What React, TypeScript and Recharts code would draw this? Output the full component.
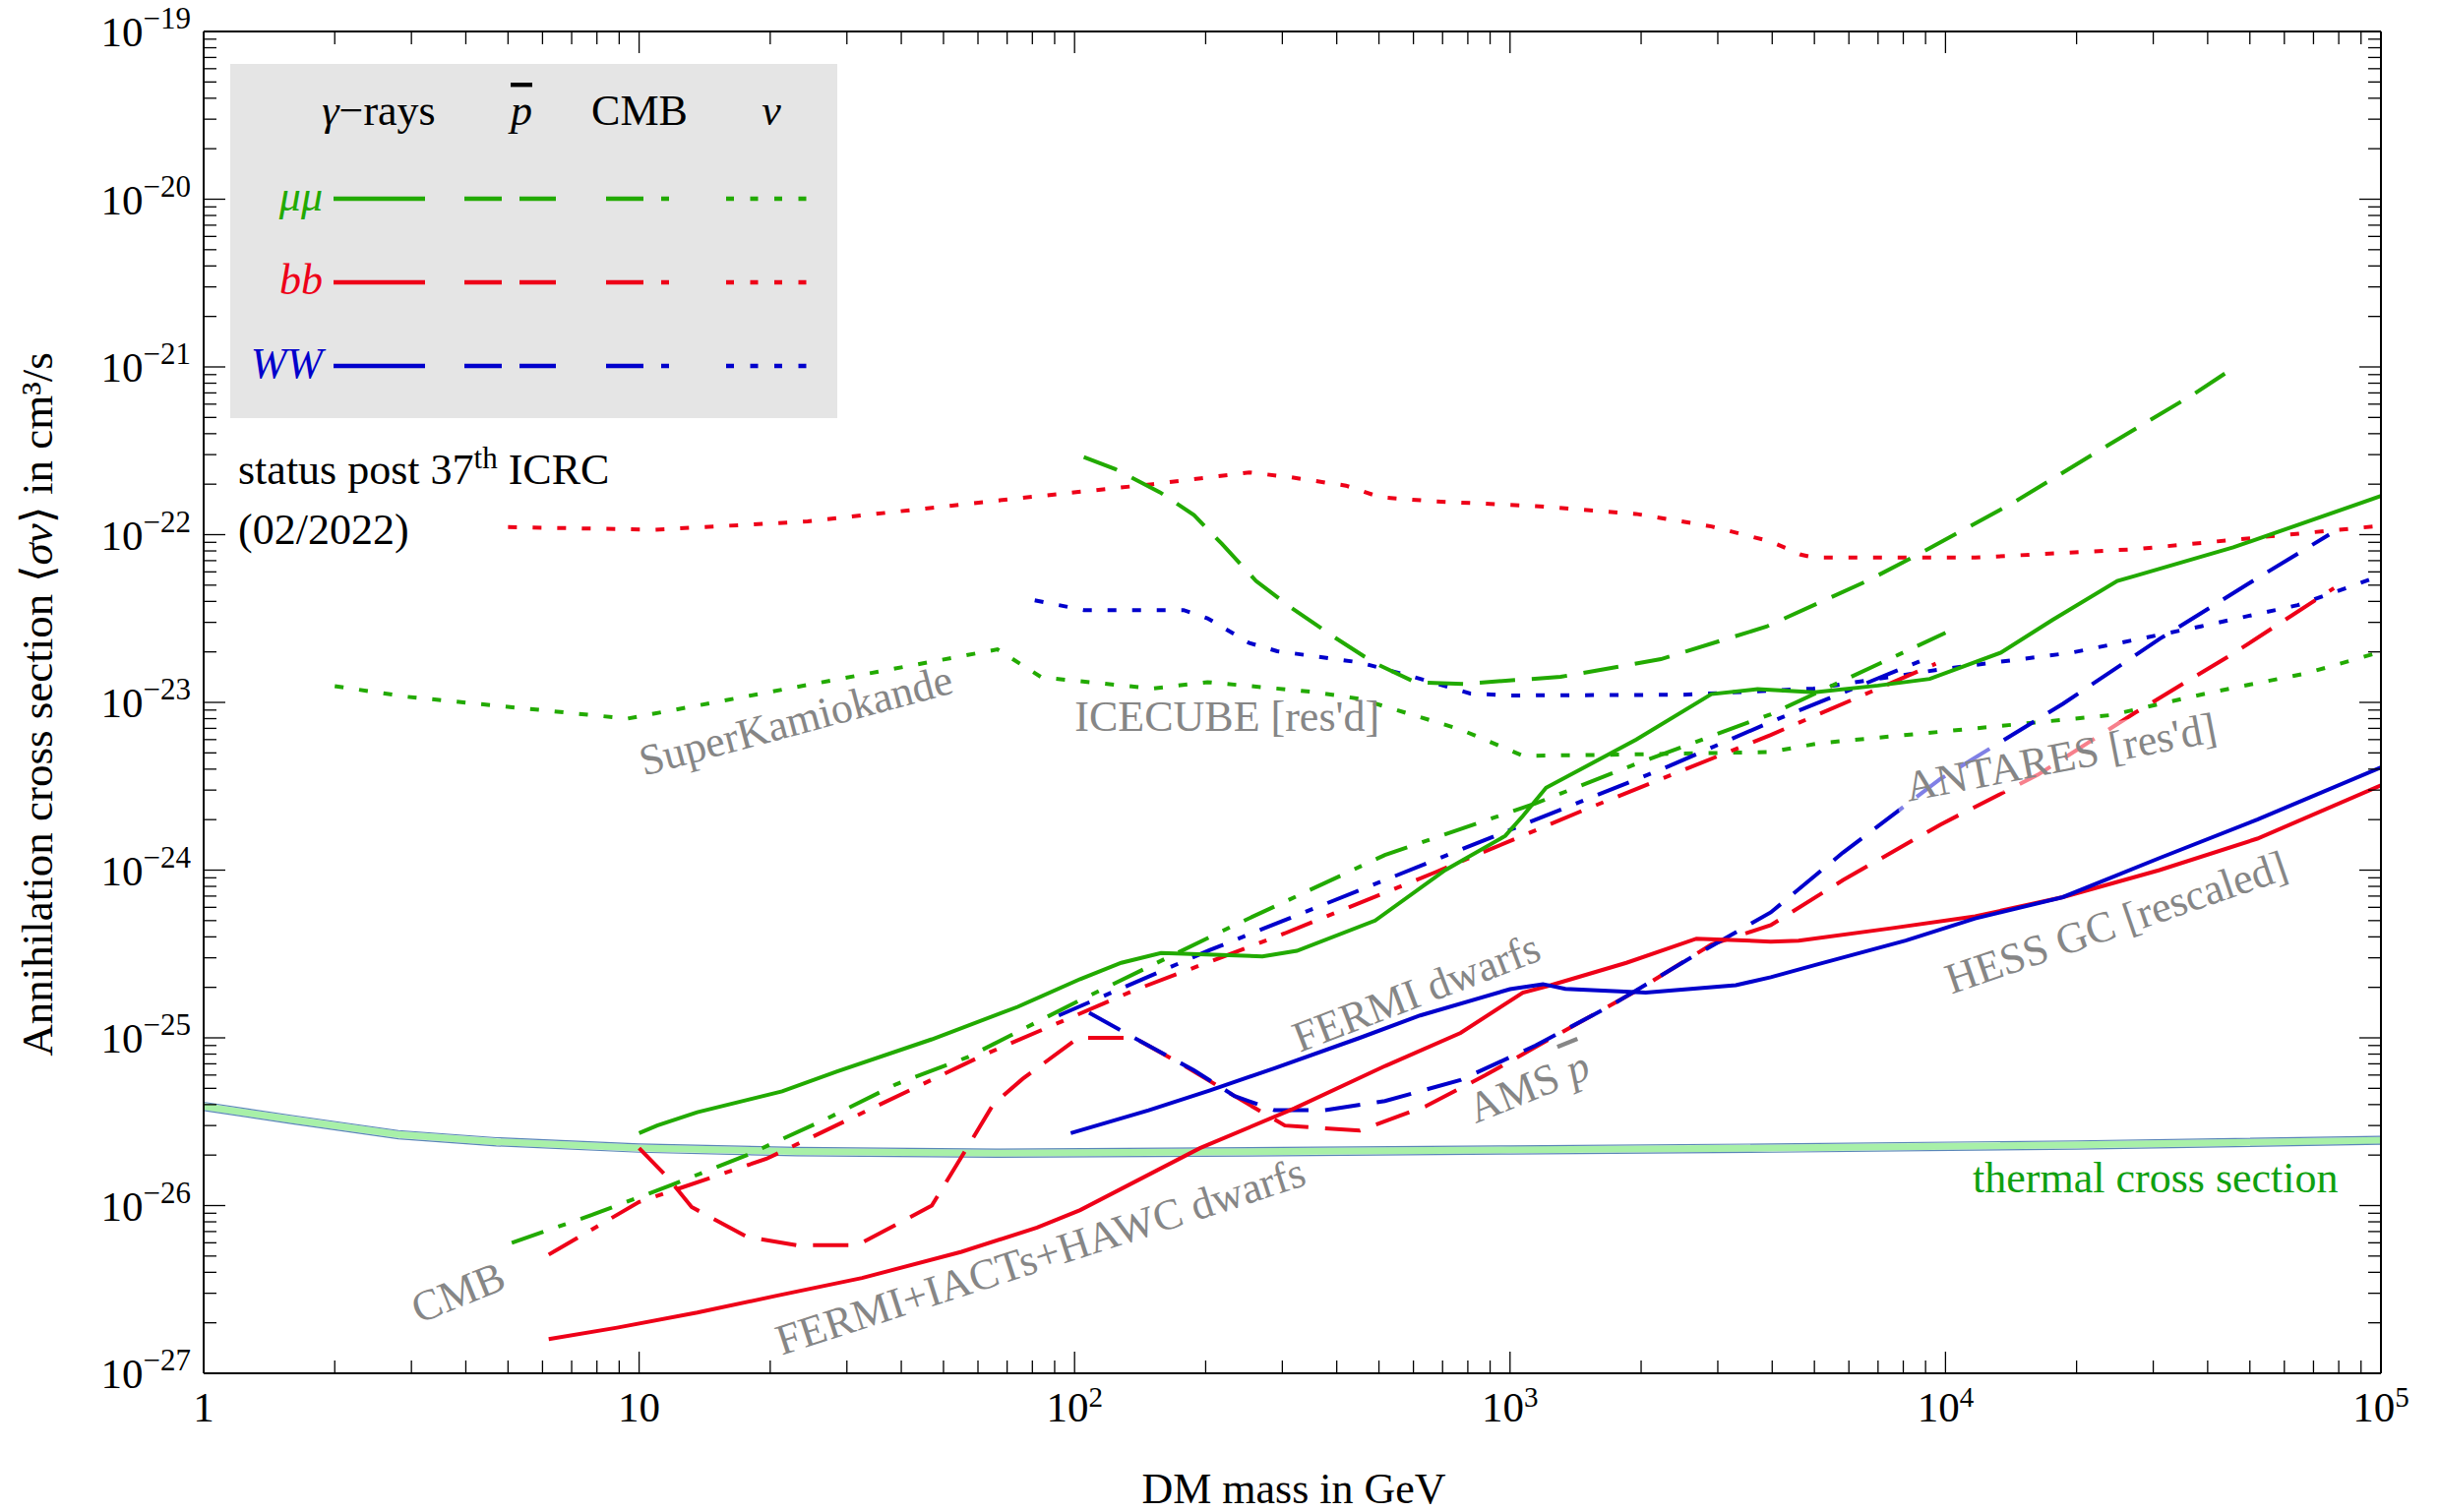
import React from "react";
import { ComposedChart, Line, XAxis, YAxis, ReferenceDot } from "recharts";

const GREEN = "#22aa00";
const RED = "#ee0018";
const BLUE = "#0000cc";
const GRAY = "#868686";
const FONT = '"Liberation Serif", "Times New Roman", serif';

const W = 2479;
const H = 1537;

// axis ticks
const xMajor = [1, 10, 100, 1000, 10000, 100000];
const yMajor = [1e-27, 1e-26, 1e-25, 1e-24, 1e-23, 1e-22, 1e-21, 1e-20, 1e-19];
const minorSteps = [2, 3, 4, 5, 6, 7, 8, 9];

const withMinor = (major: number[]) =>
  [...major, ...major.slice(0, -1).flatMap((d) => minorSteps.map((k) => k * d))].sort((a, b) => a - b);

const xTicks = withMinor(xMajor);
const yTicks = withMinor(yMajor);

// thermal cross section band
const thermalM = [1, 1.6, 2.8, 4.7, 10, 23, 66, 300, 1000, 4000, 20000, 100000];
const thermalS = [3.9e-26, 3.25e-26, 2.65e-26, 2.4e-26, 2.2e-26, 2.1e-26, 2.05e-26, 2.1e-26, 2.15e-26, 2.2e-26, 2.3e-26, 2.45e-26];
const thermalLo = [3.69e-26, 3.07e-26, 2.5e-26, 2.27e-26, 2.08e-26, 1.98e-26, 1.94e-26, 1.98e-26, 2.03e-26, 2.08e-26, 2.17e-26, 2.32e-26];
const thermalHi = [4.13e-26, 3.44e-26, 2.8e-26, 2.54e-26, 2.33e-26, 2.22e-26, 2.17e-26, 2.22e-26, 2.27e-26, 2.33e-26, 2.43e-26, 2.59e-26];

// gamma-rays (solid)
const gammaMuM = [10, 11, 13.6, 21.3, 28.5, 47, 74, 103, 128, 158, 270, 324, 490, 710, 975, 1070, 1210, 1950, 2900, 3700, 5000, 7000, 9200, 13400, 17600, 24800, 27400, 45800, 100000];
const gammaMuS = [2.7e-26, 3.0e-26, 3.6e-26, 4.8e-26, 6.3e-26, 9.8e-26, 1.53e-25, 2.24e-25, 2.8e-25, 3.2e-25, 3.06e-25, 3.3e-25, 5.0e-25, 1.0e-24, 1.6e-24, 2.1e-24, 3.1e-24, 6.0e-24, 1.12e-23, 1.2e-23, 1.15e-23, 1.26e-23, 1.38e-23, 1.98e-23, 3.1e-23, 5.3e-23, 5.7e-23, 8.4e-23, 1.7e-22];
const gammaBbM = [6.2, 8.9, 13.6, 20.7, 32.5, 55, 82, 103, 194, 320, 517, 770, 1070, 1240, 1850, 2680, 3970, 4600, 7500, 11700, 18600, 31000, 52000, 100000];
const gammaBbS = [1.6e-27, 1.87e-27, 2.3e-27, 2.9e-27, 3.7e-27, 5.3e-27, 7.4e-27, 9.4e-27, 2.2e-26, 3.8e-26, 6.8e-26, 1.07e-25, 1.86e-25, 2.06e-25, 2.8e-25, 3.9e-25, 3.75e-25, 3.8e-25, 4.5e-25, 5.3e-25, 6.9e-25, 1.0e-24, 1.54e-24, 3.2e-24];
const gammaWwM = [98, 148, 204, 288, 452, 622, 1000, 1190, 1340, 2050, 3300, 3970, 5100, 8100, 11700, 18600, 31000, 52000, 100000];
const gammaWwS = [2.7e-26, 3.7e-26, 4.85e-26, 6.6e-26, 1.0e-25, 1.36e-25, 1.95e-25, 2.09e-25, 1.96e-25, 1.86e-25, 2.06e-25, 2.3e-25, 2.75e-25, 3.8e-25, 5.15e-25, 6.9e-25, 1.18e-24, 2.0e-24, 4.1e-24];

// antiprotons (dashed)
const pbarMuM = [105, 124, 157, 188, 218, 261, 313, 390, 486, 605, 781, 1306, 2220, 3880, 6610, 8560, 14300, 24000, 37200, 44300];
const pbarMuS = [2.9e-22, 2.46e-22, 1.79e-22, 1.31e-22, 8.8e-23, 5.3e-23, 3.7e-23, 2.5e-23, 1.73e-23, 1.32e-23, 1.29e-23, 1.42e-23, 1.81e-23, 2.83e-23, 5.3e-23, 7.5e-23, 1.55e-22, 3.5e-22, 6.9e-22, 9.3e-22];
const pbarBbM = [10, 11.6, 13.2, 17.7, 23, 31.7, 47, 55, 65, 76, 102, 137, 179, 233, 304, 452, 639, 879, 1307, 1946, 2900, 3970, 5810, 9740, 16300, 27300, 45700, 78000];
const pbarBbS = [2.2e-26, 1.48e-26, 9.8e-27, 6.5e-27, 5.8e-27, 5.8e-27, 1.0e-26, 1.95e-26, 4.0e-26, 5.7e-26, 1.0e-25, 1.0e-25, 6.8e-26, 4.5e-26, 3.0e-26, 2.8e-26, 3.9e-26, 6.0e-26, 1.07e-25, 1.9e-25, 3.6e-25, 4.7e-25, 8.7e-25, 1.87e-24, 3.7e-24, 8.7e-24, 1.95e-23, 4.8e-23];
const pbarWwM = [108, 137, 188, 233, 288, 375, 516, 769, 1145, 1706, 2540, 3970, 5810, 9740, 18600, 31100, 52000, 76000];
const pbarWwS = [1.41e-25, 1.0e-25, 6.4e-26, 4.5e-26, 3.7e-26, 3.7e-26, 4.2e-26, 5.6e-26, 9.0e-26, 1.56e-25, 2.9e-25, 5.6e-25, 1.27e-24, 3.5e-24, 9.8e-24, 2.4e-23, 5.5e-23, 1.0e-22];

// CMB (dash-dot)
const cmbMuM = [5.1, 7.8, 11.9, 17.7, 27, 39, 57, 104, 233, 516, 1145, 1950, 3970, 10000];
const cmbMuS = [6.0e-27, 8.8e-27, 1.33e-26, 2.0e-26, 3.3e-26, 5.3e-26, 7.7e-26, 1.7e-25, 4.7e-25, 1.23e-24, 2.5e-24, 4.3e-24, 8.5e-24, 2.6e-23];
const cmbBbM = [6.2, 10, 19.6, 61.8, 137, 304, 673, 1490, 3970, 9500];
const cmbBbS = [5.1e-27, 1.05e-26, 1.9e-26, 7.9e-26, 1.92e-25, 4.2e-25, 9.7e-25, 2.3e-24, 6.4e-24, 1.7e-23];
const cmbWwM = [92, 204, 452, 1002, 2222, 3966, 9360];
const cmbWwS = [1.36e-25, 3.33e-25, 7.6e-25, 1.74e-24, 3.98e-24, 7.64e-24, 1.89e-23];

// neutrinos (dotted)
const nuMuM = [2, 2.93, 9.4, 66.5, 84, 151, 202, 347, 452, 769, 1072, 1946, 3966, 5115, 11070, 24000, 40200, 67300, 100000];
const nuMuS = [1.25e-23, 1.08e-23, 8.0e-24, 2.07e-23, 1.41e-23, 1.21e-23, 1.32e-23, 1.16e-23, 1.05e-23, 6.9e-24, 4.8e-24, 4.9e-24, 5.06e-24, 5.7e-24, 6.9e-24, 8.4e-24, 1.14e-23, 1.49e-23, 2.0e-23];
const nuBbM = [5, 10.9, 24.4, 73, 151, 252, 313, 420, 504, 673, 1145, 1946, 2900, 3970, 4650, 4980, 11700, 27400, 100000];
const nuBbS = [1.11e-22, 1.07e-22, 1.2e-22, 1.64e-22, 2.0e-22, 2.35e-22, 2.2e-22, 1.96e-22, 1.67e-22, 1.58e-22, 1.48e-22, 1.33e-22, 1.12e-22, 9.1e-23, 7.6e-23, 7.3e-23, 7.3e-23, 8.2e-23, 1.13e-22];
const nuWwM = [81, 105, 178, 202, 252, 292, 452, 605, 810, 1000, 2500, 4980, 9860, 19500, 38600, 64400, 100000];
const nuWwS = [4.06e-23, 3.55e-23, 3.55e-23, 3.17e-23, 2.26e-23, 2.02e-23, 1.73e-23, 1.41e-23, 1.13e-23, 1.1e-23, 1.11e-23, 1.21e-23, 1.58e-23, 1.98e-23, 2.84e-23, 3.8e-23, 5.7e-23];

const DASH = "36 17";
const DASHDOT = "34 16 8 16";
const DOT = "9 16";

const zip = (m: number[], s: number[]) => m.map((v, i) => ({ m: v, s: s[i] }));

const series = [
  { id: "nuMu", data: zip(nuMuM, nuMuS), color: GREEN, dash: DOT },
  { id: "nuBb", data: zip(nuBbM, nuBbS), color: RED, dash: DOT },
  { id: "nuWw", data: zip(nuWwM, nuWwS), color: BLUE, dash: DOT },
  { id: "cmbMu", data: zip(cmbMuM, cmbMuS), color: GREEN, dash: DASHDOT },
  { id: "cmbWw", data: zip(cmbWwM, cmbWwS), color: BLUE, dash: DASHDOT },
  { id: "cmbBb", data: zip(cmbBbM, cmbBbS), color: RED, dash: DASHDOT },
  { id: "pbarMu", data: zip(pbarMuM, pbarMuS), color: GREEN, dash: DASH },
  { id: "pbarBb", data: zip(pbarBbM, pbarBbS), color: RED, dash: DASH },
  { id: "pbarWw", data: zip(pbarWwM, pbarWwS), color: BLUE, dash: DASH },
  { id: "gammaMu", data: zip(gammaMuM, gammaMuS), color: GREEN, dash: undefined },
  { id: "gammaBb", data: zip(gammaBbM, gammaBbS), color: RED, dash: undefined },
  { id: "gammaWw", data: zip(gammaWwM, gammaWwS), color: BLUE, dash: undefined },
];

// curve labels, placed in data coordinates
const labelText = ["SuperKamiokande", "ICECUBE [res'd]", "ANTARES [res'd]", "FERMI dwarfs", "AMS", "HESS GC [rescaled]", "FERMI+IACTs+HAWC dwarfs", "CMB", "thermal cross section"];
const labelM = [22.9, 224, 18400, 609, 1104, 24650, 83.5, 3.84, 30350];
const labelS = [7.8e-24, 8.2e-24, 4.7e-24, 1.86e-25, 5.1e-26, 4.87e-25, 4.98e-27, 3.03e-27, 1.45e-26];
const labelAngle = [-15, 0, -11, -21, -22, -19, -18, -22, 0];

const isMajor = (v: number) => {
  const lg = Math.log10(v);
  return Math.abs(lg - Math.round(lg)) < 1e-6;
};

function XTick(props: any) {
  const { x, y, payload, top } = props;
  const v = payload.value;
  const major = isMajor(v);
  const e = Math.round(Math.log10(v));
  const len = major ? 22 : 13;
  const dir = top ? 1 : -1;
  return (
    <g>
      <line x1={x} x2={x} y1={y} y2={y + dir * len} stroke="#000" strokeWidth={1.3} />
      {major && !top && (
        <text x={x} y={y + 49} textAnchor="middle" fontFamily={FONT} fontSize={43} fill="#000">
          {e === 0 ? "1" : "10"}
          {e > 1 && (
            <tspan dy={-15} fontSize={29}>
              {e}
            </tspan>
          )}
        </text>
      )}
    </g>
  );
}

function YTick(props: any) {
  const { x, y, payload, right } = props;
  const v = payload.value;
  const major = isMajor(v);
  const e = Math.round(Math.log10(v));
  const len = major ? 22 : 13;
  const dir = right ? -1 : 1;
  return (
    <g>
      <line x1={x} x2={x + dir * len} y1={y} y2={y} stroke="#000" strokeWidth={1.3} />
      {major && !right && (
        <text x={x - 13} y={y + 15} textAnchor="end" fontFamily={FONT} fontSize={43} fill="#000">
          10
          <tspan dy={-18} fontSize={31}>
            {"\u2212" + Math.abs(e)}
          </tspan>
        </text>
      )}
    </g>
  );
}

function PlotLabel(props: any) {
  const { viewBox, caption, rot } = props;
  const cx = (viewBox?.x ?? 0) + (viewBox?.width ?? 0) / 2;
  const cy = (viewBox?.y ?? 0) + (viewBox?.height ?? 0) / 2;
  const thermal = caption === "thermal cross section";
  const antares = caption.startsWith("ANTARES");
  const ams = caption === "AMS";
  return (
    <g transform={`translate(${cx},${cy}) rotate(${rot})`}>
      {antares && <rect x={-172} y={-25} width={344} height={48} fill="#fff" fillOpacity={0.5} />}
      <text
        x={0}
        y={0}
        textAnchor="middle"
        dominantBaseline="central"
        fontFamily={FONT}
        fontSize={44}
        fill={thermal ? "#10a010" : GRAY}
      >
        {ams ? caption + "\u00a0" : caption}
        {ams && (
          <tspan fontStyle="italic" style={{ textDecoration: "overline" }}>
            p
          </tspan>
        )}
      </text>
    </g>
  );
}

const legendRows = [
  { label: "μμ", color: GREEN, y: 202 },
  { label: "bb", color: RED, y: 287 },
  { label: "WW", color: BLUE, y: 372 },
];
const legendCols = [
  { x0: 339, x1: 432, dash: undefined },
  { x0: 472, x1: 565, dash: "38 18" },
  { x0: 616, x1: 680, dash: "38 18 8 18" },
  { x0: 738, x1: 830, dash: "8 16.5" },
];

function Overlay() {
  return (
    <svg width={W} height={H} style={{ position: "absolute", left: 0, top: 0, pointerEvents: "none" }}>
      <g fontFamily={FONT} fontSize={44}>
        <rect x={234} y={65} width={617} height={360} fill="#e5e5e5" />
        <text x={385} y={127} textAnchor="middle">
          <tspan fontStyle="italic">γ</tspan>−rays
        </text>
        <text x={530} y={127} textAnchor="middle" fontStyle="italic" style={{ textDecoration: "overline" }}>
          p
        </text>
        <text x={650} y={127} textAnchor="middle">
          CMB
        </text>
        <text x={784} y={127} textAnchor="middle" fontStyle="italic">
          ν
        </text>
        {legendRows.map((r) => (
          <g key={r.label}>
            <text x={328} y={r.y + 12} textAnchor="end" fontStyle="italic" fill={r.color}>
              {r.label}
            </text>
            {legendCols.map((c, i) => (
              <line key={i} x1={c.x0} x2={c.x1} y1={r.y} y2={r.y} stroke={r.color} strokeWidth={4.5} strokeDasharray={c.dash} />
            ))}
          </g>
        ))}
        <text x={242} y={492}>
          status post 37
          <tspan dy={-16} fontSize={31}>
            th
          </tspan>
          <tspan dy={16}> ICRC</tspan>
        </text>
        <text x={242} y={553}>
          (02/2022)
        </text>
        <text x={1315} y={1528} textAnchor="middle">
          DM mass in GeV
        </text>
        <text x={38} y={716} textAnchor="middle" dominantBaseline="central" fontSize={45} transform="rotate(-90 38 716)">
          Annihilation cross section ⟨<tspan fontStyle="italic">σv</tspan>⟩ in cm³/s
        </text>
      </g>
    </svg>
  );
}

export default function App() {
  const thermalMid = zip(thermalM, thermalS);
  const thermalLow = zip(thermalM, thermalLo);
  const thermalHigh = zip(thermalM, thermalHi);
  return (
    <div style={{ position: "absolute", left: 0, top: 0, width: W, height: H, background: "#fff" }}>
      <ComposedChart width={W} height={H} margin={{ top: 31, right: 58, bottom: 0, left: 0 }}>
        <XAxis
          dataKey="m"
          type="number"
          scale="log"
          domain={[1, 100000]}
          allowDataOverflow
          ticks={xTicks}
          interval={0}
          height={141}
          tickSize={0}
          tickMargin={0}
          tick={<XTick />}
          axisLine={{ stroke: "#000", strokeWidth: 2 }}
        />
        <XAxis
          xAxisId="top"
          orientation="top"
          dataKey="m"
          type="number"
          scale="log"
          domain={[1, 100000]}
          allowDataOverflow
          ticks={xTicks}
          interval={0}
          height={1}
          tickSize={0}
          tickMargin={0}
          tick={<XTick top />}
          axisLine={{ stroke: "#000", strokeWidth: 2 }}
        />
        <YAxis
          type="number"
          scale="log"
          domain={[1e-27, 1e-19]}
          allowDataOverflow
          ticks={yTicks}
          interval={0}
          width={207}
          tickSize={0}
          tickMargin={0}
          tick={<YTick />}
          axisLine={{ stroke: "#000", strokeWidth: 2 }}
        />
        <YAxis
          yAxisId="right"
          orientation="right"
          type="number"
          scale="log"
          domain={[1e-27, 1e-19]}
          allowDataOverflow
          ticks={yTicks}
          interval={0}
          width={1}
          tickSize={0}
          tickMargin={0}
          tick={<YTick right />}
          axisLine={{ stroke: "#000", strokeWidth: 2 }}
        />
        <Line data={thermalMid} dataKey="s" stroke="#a8f0a8" strokeWidth={7} dot={false} activeDot={false} isAnimationActive={false} />
        <Line data={thermalLow} dataKey="s" stroke="#5a86b8" strokeWidth={1.2} dot={false} activeDot={false} isAnimationActive={false} />
        <Line data={thermalHigh} dataKey="s" stroke="#5a86b8" strokeWidth={1.2} dot={false} activeDot={false} isAnimationActive={false} />
        {series.map((sr) => (
          <Line
            key={sr.id}
            data={sr.data}
            dataKey="s"
            stroke={sr.color}
            strokeWidth={4}
            strokeDasharray={sr.dash}
            strokeLinecap="butt"
            dot={false}
            activeDot={false}
            isAnimationActive={false}
          />
        ))}
        {labelText.map((t, i) => (
          <ReferenceDot
            key={t}
            x={labelM[i]}
            y={labelS[i]}
            r={0}
            fill="none"
            stroke="none"
            ifOverflow="visible"
            label={<PlotLabel caption={t} rot={labelAngle[i]} />}
          />
        ))}
      </ComposedChart>
      <Overlay />
    </div>
  );
}
